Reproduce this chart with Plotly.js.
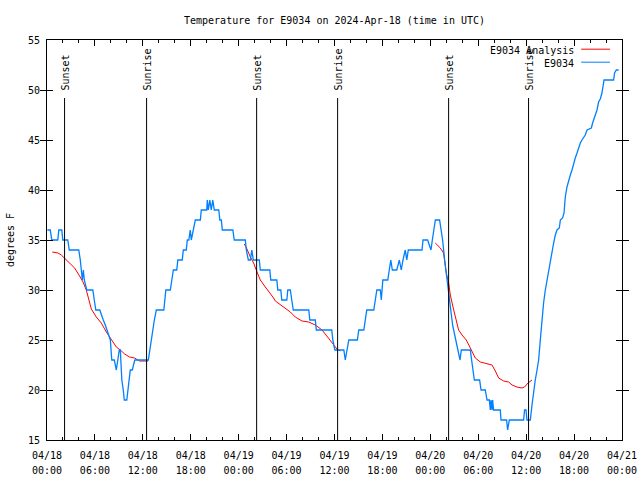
<!DOCTYPE html>
<html><head><meta charset="utf-8">
<script src="https://cdn.plot.ly/plotly-3.0.1.min.js"></script>
<style>html,body{margin:0;padding:0;background:#fff}#chart{width:640px;height:480px}</style>
</head><body><div id="chart"></div>
<script>
// hours after 2024-04-18 00:00 UTC
const hoursBlue = [0.05,0.41,0.60,1.35,1.48,1.85,1.98,2.60,2.79,3.98,4.17,4.30,4.42,4.55,4.67,4.98,5.74,5.92,6.11,6.61,6.80,7.05,7.30,7.49,7.68,7.93,8.11,8.43,8.68,8.87,9.05,9.18,9.37,9.55,9.68,9.99,10.12,10.24,10.43,10.68,10.81,10.99,12.69,12.87,13.06,13.25,13.44,13.69,14.63,14.88,15.44,15.63,15.82,16.25,16.38,16.94,17.07,17.44,17.57,17.76,17.94,18.07,18.32,18.57,19.20,19.32,20.01,20.07,20.20,20.39,20.57,20.76,20.95,21.51,21.64,21.83,21.95,23.27,23.45,24.83,24.96,25.21,25.46,25.65,25.83,26.58,26.71,27.90,28.02,28.78,28.90,29.28,29.40,30.03,30.15,30.47,30.65,30.84,32.78,32.91,33.60,33.72,35.66,35.79,36.04,37.17,37.35,37.60,37.79,38.86,39.04,39.67,39.86,40.04,40.92,41.11,41.30,41.74,41.86,42.05,42.67,42.86,43.05,43.24,43.80,44.12,44.36,44.58,44.86,45.05,45.24,46.96,47.08,47.66,47.87,48.08,48.25,48.44,48.63,49.16,49.37,49.54,49.79,50.09,50.25,50.38,50.50,50.63,50.79,51.00,51.21,51.42,51.59,51.72,51.88,53.01,53.17,53.35,53.51,54.17,54.35,54.88,55.10,55.39,55.51,55.60,55.72,55.80,55.92,56.76,56.85,57.55,57.68,57.89,59.68,59.80,59.98,60.10,60.52,60.73,60.93,61.14,61.36,61.56,61.77,61.98,62.18,62.40,62.61,62.81,63.02,63.23,63.44,63.65,63.86,64.15,64.28,64.56,64.74,64.82,64.90,65.11,65.31,65.53,65.74,65.94,66.15,66.37,66.57,66.78,66.99,67.40,67.62,68.16,68.32,68.44,68.66,68.87,69.07,69.28,69.49,69.62,69.75,70.95,71.07,71.29,71.58];
const tempBlue = [36,36,35,35,36,36,35,35,34,34,33,32,31,32,31,30,30,29,28,28,27.5,27,26.5,26,25.5,25,23,23,22,23,24,24,21,20,19,19,20,21,22,22,22.5,23,23,24,25,26,27,28,28,30,30,31,32,32,33,33,34,34,35,35,36,35,36,37,37,38,38,39,38,39,38,39,38,38,37,37,36,36,35,35,34,33,33,34,33,33,32,32,31,31,30,30,29,29,30,30,29,28,28,27,27,26,26,25,24,24,23,24,25,25,26,26,27,28,28,29,30,30,29,31,31,32,33,32,32,33,32,33,34,33,34,34,35,35,34.5,34,35,36,37,37,36,35,33,31,30,29.3,28.3,27.5,26.5,25.7,24.8,24,23.3,23,24,24,23,22,21,21,20,20,19,19,18,19,18,19,18,18,17,17,16,17,17,18,18,17,17,18.5,20,21,22,23,25,27,28.7,30,31,32,33,33.8,34.7,35.5,36,36.2,37,37.2,37.7,38.5,39.3,40.3,41,41.5,42,42.7,43.2,43.7,44.2,44.7,45,45.5,46,46.2,46.7,47,47.5,48,48.8,49.1,49.7,50.3,51,51,51.7,52,52];

const hoursAnalysis = [0.66,1.38,1.79,2.20,2.83,3.46,4.08,4.51,4.92,5.21,5.55,6.17,6.80,7.43,7.84,8.26,8.68,9.18,9.72,10.34,10.97,11.60,12.65,
  null,
  24.71,25.04,25.46,25.87,26.30,26.71,27.34,27.96,28.37,28.59,29.43,30.47,31.09,31.93,32.76,33.60,34.44,35.26,35.89,36.31,36.73,
  null,
  48.62,49.25,49.66,49.79,50.00,50.29,50.50,50.84,51.13,51.54,51.97,52.50,53.01,53.63,54.26,54.88,55.72,56.14,56.55,57.18,57.80,58.23,58.85,59.48,59.80,60.23,60.73];
const tempAnalysis = [33.8,33.7,33.5,33.2,32.7,32.2,31.4,30.8,30.0,29.0,28.1,27.3,26.7,25.8,25.3,24.8,24.3,24.0,23.6,23.3,23.2,22.9,22.9,
  null,
  34.6,34.1,33.3,32.7,31.8,31.0,30.3,29.7,29.2,28.9,28.4,27.8,27.3,26.9,26.8,26.5,26.0,25.2,24.5,24.1,23.9,
  null,
  34.7,34.2,33.7,33.0,31.7,30.7,29.5,28.3,27.3,26.0,25.5,25.0,24.2,23.2,22.8,22.7,22.5,21.9,21.2,20.9,20.8,20.5,20.3,20.2,20.3,20.7,21.0];

const eventHours = [2.20, 12.47, 26.25, 36.39, 50.29, 60.30];
const eventLabels = ['Sunset','Sunrise','Sunset','Sunrise','Sunset','Sunrise'];
const seriesNames = ['E9034 Analysis', 'E9034'];
const seriesColors = ['#ff0000', '#0080ff'];
const titleText = 'Temperature for E9034 on 2024-Apr-18 (time in UTC)';
const yTitle = 'degrees F';
const xRangeHours = [0, 72];
const yRange = [15, 55];

const base = Date.UTC(2024, 3, 18);
function toTime(h) {
  if (h === null) return null;
  return new Date(base + h * 3600000).toISOString().slice(0, 19).replace('T', ' ');
}

const FONT = 'DejaVu Sans Mono, monospace';
const traces = [
  {x: hoursAnalysis.map(toTime), y: tempAnalysis, type: 'scatter', mode: 'lines', name: seriesNames[0],
   line: {color: seriesColors[0], width: 1}, connectgaps: false, hoverinfo: 'skip'},
  {x: hoursBlue.map(toTime), y: tempBlue, type: 'scatter', mode: 'lines', name: seriesNames[1],
   line: {color: seriesColors[1], width: 1.3}, hoverinfo: 'skip'},
  // carrier for the second row of time labels (no marks)
  {x: [], y: [], type: 'scatter', mode: 'lines', xaxis: 'x2', yaxis: 'y', showlegend: false, hoverinfo: 'skip'}
];

const shapes = [];
const annotations = [];
eventHours.forEach((h, i) => {
  shapes.push({type: 'line', xref: 'x', yref: 'paper', x0: toTime(h), x1: toTime(h), y0: 0, y1: 0.855,
    line: {color: '#000', width: 1}});
  annotations.push({xref: 'x', yref: 'paper', x: toTime(h), y: 0.87, text: eventLabels[i], textangle: -90,
    showarrow: false, xanchor: 'center', yanchor: 'bottom', borderpad: 0,
    font: {family: FONT, size: 10, color: '#000'}});
});
// gnuplot-style key (top right)
const keyY = [0.975, 0.9425];
seriesNames.forEach((n, i) => {
  annotations.push({xref: 'paper', yref: 'paper', x: 0.919, y: keyY[i], text: n, showarrow: false,
    xanchor: 'right', yanchor: 'middle', borderpad: 0, font: {family: FONT, size: 10, color: '#000'}});
  shapes.push({type: 'line', xref: 'paper', yref: 'paper', x0: 0.929, x1: 0.979, y0: keyY[i] + 0.002, y1: keyY[i] + 0.002,
    line: {color: seriesColors[i], width: 1}});
});

const xRange = [toTime(xRangeHours[0]), toTime(xRangeHours[1])];
const layout = {
  width: 640, height: 480,
  margin: {l: 47, r: 18, t: 40, b: 40},
  paper_bgcolor: '#fff', plot_bgcolor: '#fff',
  showlegend: false,
  title: {text: titleText, x: 0.5, xref: 'paper', y: 0.958, yref: 'container', yanchor: 'middle',
    font: {family: FONT, size: 10, color: '#000'}},
  xaxis: {type: 'date', range: xRange,
    tick0: toTime(0), dtick: 6 * 3600000, tickformat: '%m/%d',
    ticks: 'inside', ticklen: 6, tickcolor: '#000', tickwidth: 1, ticklabelstandoff: 6,
    minor: {dtick: 2 * 3600000, ticks: 'inside', ticklen: 3, tickcolor: '#000', showgrid: false},
    showline: true, linecolor: '#000', linewidth: 1, mirror: 'allticks',
    showgrid: false, zeroline: false, fixedrange: true,
    tickfont: {family: FONT, size: 10, color: '#000'}},
  xaxis2: {type: 'date', range: xRange, overlaying: 'x', anchor: 'y', side: 'bottom',
    tick0: toTime(0), dtick: 6 * 3600000, tickformat: '%H:%M',
    ticks: '', ticklabelstandoff: 23, showline: false, showgrid: false, zeroline: false, fixedrange: true,
    tickfont: {family: FONT, size: 10, color: '#000'}},
  yaxis: {range: yRange, dtick: 5, tick0: 15,
    ticks: 'inside', ticklen: 6, tickcolor: '#000', tickwidth: 1, ticklabelstandoff: 4,
    showline: true, linecolor: '#000', linewidth: 1, mirror: 'allticks',
    showgrid: false, zeroline: false, fixedrange: true,
    tickfont: {family: FONT, size: 10, color: '#000'},
    title: {text: yTitle, standoff: 11, font: {family: FONT, size: 10, color: '#000'}}},
  shapes: shapes,
  annotations: annotations
};

Plotly.newPlot('chart', traces, layout, {staticPlot: true, displayModeBar: false});
</script>
</body></html>
